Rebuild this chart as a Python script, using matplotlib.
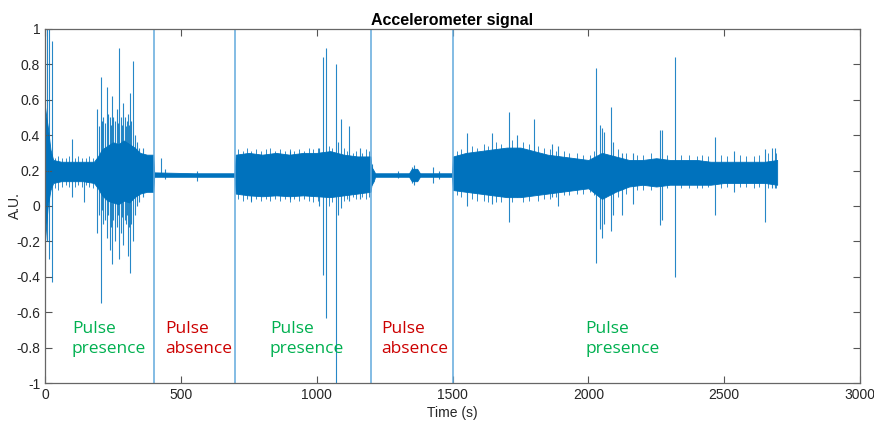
import matplotlib
matplotlib.use("Agg")
import matplotlib.pyplot as plt
import numpy as np

plt.rcParams['font.family'] = ['Liberation Sans', 'DejaVu Sans']
plt.rcParams['axes.unicode_minus'] = False

# dense part of the signal, read as an upper/lower envelope (time in s)
t_env = [0, 5, 10, 20, 30, 60, 100, 140, 180, 195, 210, 230, 250, 270, 290, 310, 330, 350, 375, 398,
         402, 550, 698,
         702, 750, 800, 850, 900, 950, 1000, 1050, 1100, 1150, 1198,
         1202, 1210, 1215, 1340, 1350, 1370, 1380, 1498,
         1502, 1550, 1600, 1650, 1700, 1750, 1800, 1850, 1900, 1950, 2000, 2050, 2100,
         2150, 2200, 2250, 2300, 2350, 2400, 2450, 2500, 2550, 2600, 2650, 2695]
upper = [0.56, 0.50, 0.45, 0.32, 0.26, 0.25, 0.25, 0.25, 0.25, 0.28, 0.32, 0.34, 0.36, 0.35, 0.37, 0.35, 0.33, 0.30, 0.29, 0.29,
         0.19, 0.185, 0.185,
         0.29, 0.30, 0.29, 0.30, 0.29, 0.30, 0.30, 0.31, 0.29, 0.28, 0.28,
         0.22, 0.20, 0.185, 0.185, 0.21, 0.21, 0.185, 0.185,
         0.28, 0.30, 0.31, 0.32, 0.33, 0.33, 0.31, 0.29, 0.28, 0.27, 0.26, 0.30, 0.28,
         0.26, 0.26, 0.27, 0.26, 0.26, 0.26, 0.25, 0.25, 0.25, 0.25, 0.25, 0.26]
lower = [-0.20, -0.10, 0.00, 0.09, 0.13, 0.14, 0.14, 0.14, 0.13, 0.10, 0.06, 0.03, 0.02, 0.01, 0.03, 0.02, 0.05, 0.07, 0.08, 0.08,
         0.165, 0.165, 0.165,
         0.07, 0.06, 0.055, 0.06, 0.055, 0.06, 0.055, 0.05, 0.06, 0.07, 0.08,
         0.12, 0.14, 0.165, 0.165, 0.14, 0.14, 0.165, 0.165,
         0.09, 0.08, 0.07, 0.06, 0.05, 0.05, 0.06, 0.07, 0.08, 0.09, 0.10, 0.04, 0.08,
         0.11, 0.12, 0.11, 0.12, 0.12, 0.12, 0.12, 0.13, 0.13, 0.13, 0.13, 0.12]

# isolated spikes: time, lowest value, highest value
spike_t = [6, 16, 25, 100, 143, 193, 200, 205, 210, 215, 222, 227, 233, 238, 243, 247, 252, 258, 265, 270, 274, 281, 285,
           288, 293, 297, 301, 305, 310, 313, 318, 323, 330, 337, 345, 360,
           426, 440, 560,
           760, 900, 1010, 1022, 1035, 1071, 1080, 1091, 1119, 1160,
           1205, 1300, 1350, 1360, 1428, 1450,
           1552, 1644, 1709, 1736, 1800, 1868, 1890, 2030, 2042, 2050, 2058, 2083, 2092, 2125, 2165,
           2262, 2270, 2320, 2467, 2535, 2650, 2675, 2687]
spike_lo = [-0.20, -0.30, -0.43, 0.05, 0.02, -0.15, -0.05, -0.55, -0.02, -0.10, -0.08, -0.18, -0.05, -0.25, -0.12, -0.33, -0.08, -0.20, -0.12, -0.05, -0.30, -0.15, -0.06,
            -0.22, -0.08, -0.10, -0.05, -0.28, -0.12, -0.38, -0.10, -0.20, -0.05, 0.00, 0.02, 0.05,
            0.17, 0.15, 0.14,
            0.03, 0.04, 0.00, -0.39, -0.63, -1.00, -0.05, -0.01, 0.03, 0.04,
            0.12, 0.16, 0.13, 0.12, 0.13, 0.15,
            0.00, 0.01, -0.09, 0.05, 0.07, 0.05, 0.00, -0.32, -0.13, -0.18, -0.10, -0.14, -0.05, -0.05, 0.01,
            -0.11, -0.08, -0.40, -0.05, 0.08, -0.09, 0.10, 0.10]
spike_hi = [1.00, 1.00, 0.93, 0.38, 0.18, 0.55, 0.45, 0.73, 0.48, 0.50, 0.47, 0.67, 0.52, 0.50, 0.46, 0.62, 0.50, 0.48, 0.55, 0.47, 0.89, 0.50, 0.46,
            0.58, 0.50, 0.45, 0.48, 0.52, 0.46, 0.64, 0.48, 0.82, 0.40, 0.36, 0.33, 0.33,
            0.27, 0.21, 0.20,
            0.30, 0.31, 0.33, 0.84, 0.89, 0.80, 0.36, 0.49, 0.45, 0.33,
            0.24, 0.20, 0.22, 0.23, 0.22, 0.20,
            0.41, 0.41, 0.53, 0.40, 0.49, 0.35, 0.34, 0.78, 0.46, 0.44, 0.42, 0.56, 0.36, 0.30, 0.30,
            0.43, 0.43, 0.84, 0.39, 0.31, 0.32, 0.33, 0.33]

# short hairs poking out of the band edges
hair_t = [35, 48, 62, 77, 90, 110, 122, 135, 150, 163, 176,
          712, 728, 745, 760, 778, 795, 812, 830, 848, 865, 882, 900, 918, 935, 952, 970, 988, 1005, 1045, 1058,
          1100, 1110, 1132, 1145, 1165, 1180, 1192,
          1515, 1530, 1570, 1590, 1615, 1630, 1660, 1680, 1720, 1760, 1780, 1815, 1835, 1860, 1880, 1910, 1930,
          1960, 1980, 2005, 2020, 2110, 2140, 2180, 2200, 2230, 2290, 2340, 2370, 2400, 2420, 2440, 2490, 2510,
          2560, 2580, 2610, 2630, 2660, 2690]
hair_hi = [0.27, 0.28, 0.27, 0.27, 0.28, 0.27, 0.28, 0.27, 0.27, 0.28, 0.27,
           0.32, 0.31, 0.33, 0.31, 0.32, 0.31, 0.32, 0.33, 0.31, 0.32, 0.31, 0.32, 0.31, 0.32, 0.31, 0.33, 0.32, 0.33, 0.34, 0.33,
           0.33, 0.31, 0.30, 0.31, 0.30, 0.32, 0.31,
           0.31, 0.32, 0.34, 0.33, 0.35, 0.34, 0.36, 0.35, 0.37, 0.36, 0.35, 0.34, 0.33, 0.32, 0.31, 0.31, 0.30,
           0.30, 0.29, 0.29, 0.31, 0.32, 0.30, 0.29, 0.29, 0.30, 0.29, 0.29, 0.29, 0.28, 0.29, 0.28, 0.29, 0.28,
           0.29, 0.28, 0.28, 0.29, 0.30, 0.30]
hair_lo = [0.10, 0.09, 0.11, 0.12, 0.11, 0.11, 0.12, 0.11, 0.12, 0.11, 0.10,
           0.04, 0.03, 0.04, 0.02, 0.04, 0.03, 0.04, 0.03, 0.04, 0.03, 0.04, 0.02, 0.04, 0.03, 0.04, 0.03, 0.02, 0.03, 0.00, 0.02,
           0.03, 0.04, 0.05, 0.04, 0.05, 0.04, 0.05,
           0.06, 0.05, 0.04, 0.03, 0.03, 0.02, 0.02, 0.02, 0.02, 0.02, 0.03, 0.03, 0.04, 0.04, 0.05, 0.06, 0.06,
           0.07, 0.07, 0.08, 0.06, 0.05, 0.07, 0.09, 0.09, 0.09, 0.10, 0.10, 0.10, 0.10, 0.10, 0.11, 0.10, 0.11,
           0.11, 0.11, 0.10, 0.11, 0.10, 0.10]

boundaries = [400, 700, 1200, 1500]

labels = ["Pulse\npresence", "Pulse\nabsence", "Pulse\npresence", "Pulse\nabsence", "Pulse\npresence"]
label_x = [99, 442, 828, 1237, 1988]
label_col = ['#00b050', '#cc0000', '#00b050', '#cc0000', '#00b050']

blue = '#0072BD'

fig = plt.figure(figsize=(8.74, 4.30), dpi=100)
ax = fig.add_axes([0.0515, 0.1093, 0.9325, 0.8233])

ax.fill_between(t_env, lower, upper, color=blue, lw=0.6)
ax.vlines(hair_t, hair_lo, hair_hi, color=blue, lw=0.7, alpha=0.8)
ax.vlines(spike_t, spike_lo, spike_hi, color=blue, lw=0.8, alpha=0.85)
for b in boundaries:
    ax.axvline(b, color='#62aadd', lw=1.1)

for txt, x, c in zip(labels, label_x, label_col):
    ax.text(x, -0.75, txt, color=c, fontsize=12.5, family=['Open Sans', 'DejaVu Sans'],
            va='center', ha='left', linespacing=1.3)

ax.set_xlim(0, 3000)
ax.set_ylim(-1, 1)
ax.set_xticks(np.arange(0, 3001, 500))
ax.set_yticks(np.arange(-1, 1.01, 0.2))
ax.set_yticklabels(['-1', '-0.8', '-0.6', '-0.4', '-0.2', '0', '0.2', '0.4', '0.6', '0.8', '1'])
ax.tick_params(direction='in', length=5, width=0.8, color='#555555', labelsize=10,
               labelcolor='#262626', top=True, right=True)
for s in ax.spines.values():
    s.set_color('#666666')
    s.set_linewidth(0.9)

ax.set_title("Accelerometer signal", fontsize=11.5, fontweight='bold', pad=3)
ax.set_xlabel("Time (s)", fontsize=10, color='#262626', labelpad=3)
ax.set_ylabel("A.U.", fontsize=10, color='#262626')
ax.yaxis.set_label_coords(-0.028, 0.5)

fig.savefig("out.png", dpi=100)
